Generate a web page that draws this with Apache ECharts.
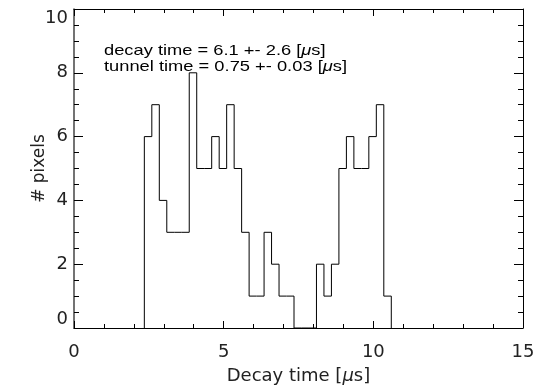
<!DOCTYPE html>
<html><head><meta charset="utf-8">
<script src="https://cdn.jsdelivr.net/npm/echarts@6/dist/echarts.min.js"></script>
<style>html,body{margin:0;padding:0;background:#fff}#c{width:536px;height:387px}</style>
</head><body><div id="c"></div>
<script>
// Histogram bin left edges [µs] and counts
const binEdges = [2.35,2.60,2.85,3.10,3.35,3.60,3.85,4.10,4.35,4.60,4.85,5.10,5.35,5.60,5.85,6.10,6.35,6.60,6.85,7.10,7.35,7.60,7.85,8.10,8.35,8.60,8.85,9.10,9.35,9.60,9.85,10.10,10.35,10.60];
const counts   = [6,7,4,3,3,3,8,5,5,6,5,7,5,3,1,1,3,2,1,1,0,0,0,2,1,2,5,6,5,5,6,7,1];
const xTicks = [0,5,10,15];
const yTicks = [0,2,4,6,8,10];
const annotations = ["decay time = 6.1 +- 2.6 [", "tunnel time = 0.75 +- 0.03 ["];

const FONT = "DejaVu Sans";
const AFONT = "Liberation Sans";
const pts = [[binEdges[0], 0]];
for (let i = 0; i < counts.length; i++) pts.push([binEdges[i], counts[i]]);
pts.push([binEdges[binEdges.length - 1], 0]);

const lineStyle = {color: '#000', width: 1};
const chart = echarts.init(document.getElementById('c'), null, {renderer: 'canvas'});
const xBase = {
  type: 'value', min: xTicks[0], max: xTicks[xTicks.length - 1], interval: 5,
  axisLine: {show: true, onZero: false, lineStyle: lineStyle},
  axisTick: {show: true, inside: true, length: 7, lineStyle: lineStyle},
  minorTick: {show: true, splitNumber: 5, length: 4, lineStyle: lineStyle},
  splitLine: {show: false}
};
const yBase = {
  type: 'value', min: yTicks[0], max: yTicks[yTicks.length - 1], interval: 2,
  axisLine: {show: true, onZero: false, lineStyle: lineStyle},
  axisTick: {show: true, inside: true, length: 9, lineStyle: lineStyle},
  minorTick: {show: true, splitNumber: 4, length: 5, lineStyle: lineStyle},
  splitLine: {show: false}
};
const rich = {
  n: {fontFamily: FONT, fontSize: 18, color: '#222'},
  i: {fontFamily: FONT, fontSize: 18, color: '#222', fontStyle: 'italic'}
};
const arich = {
  n: {fontFamily: AFONT, fontSize: 15, color: '#111'},
  i: {fontFamily: AFONT, fontSize: 15, color: '#111', fontStyle: 'italic'}
};
chart.setOption({
  animation: false,
  backgroundColor: '#fff',
  grid: {left: 74, right: 13, top: 9, bottom: 59, containLabel: false, outerBoundsMode: 'none'},
  xAxis: [
    Object.assign({}, xBase, {
      position: 'bottom',
      axisLabel: {show: true, margin: 15, fontFamily: FONT, fontSize: 18, color: '#222'},
      name: '{n|Decay time [}{i|μ}{n|s]}', nameLocation: 'middle', nameGap: 39,
      nameMoveOverlap: false,
      nameTextStyle: {rich: rich}
    }),
    Object.assign({}, xBase, {position: 'top', axisLabel: {show: false}})
  ],
  yAxis: [
    Object.assign({}, yBase, {
      position: 'left',
      axisLine: {show: true, onZero: false, lineStyle: {color: '#444', width: 1.5}},
      axisLabel: {show: true, margin: 6, fontFamily: FONT, fontSize: 18, color: '#222',
                  verticalAlignMinLabel: 'bottom', verticalAlignMaxLabel: 'top'},
      name: '# pixels', nameLocation: 'middle', nameGap: 26,
      nameMoveOverlap: false,
      nameTextStyle: {fontFamily: FONT, fontSize: 17, color: '#222'}
    }),
    Object.assign({}, yBase, {position: 'right', axisLabel: {show: false}})
  ],
  series: [{
    type: 'line', xAxisIndex: 0, yAxisIndex: 0, step: 'end', symbol: 'none',
    lineStyle: {color: '#000', width: 1}, data: pts
  }],
  graphic: [
    {type: 'text', x: 104, y: 43, scaleX: 1.22, style: {text: '{n|' + annotations[0] + '}{i|μ}{n|s]}', rich: arich}},
    {type: 'text', x: 104, y: 59, scaleX: 1.22, style: {text: '{n|' + annotations[1] + '}{i|μ}{n|s]}', rich: arich}}
  ]
});
</script></body></html>
